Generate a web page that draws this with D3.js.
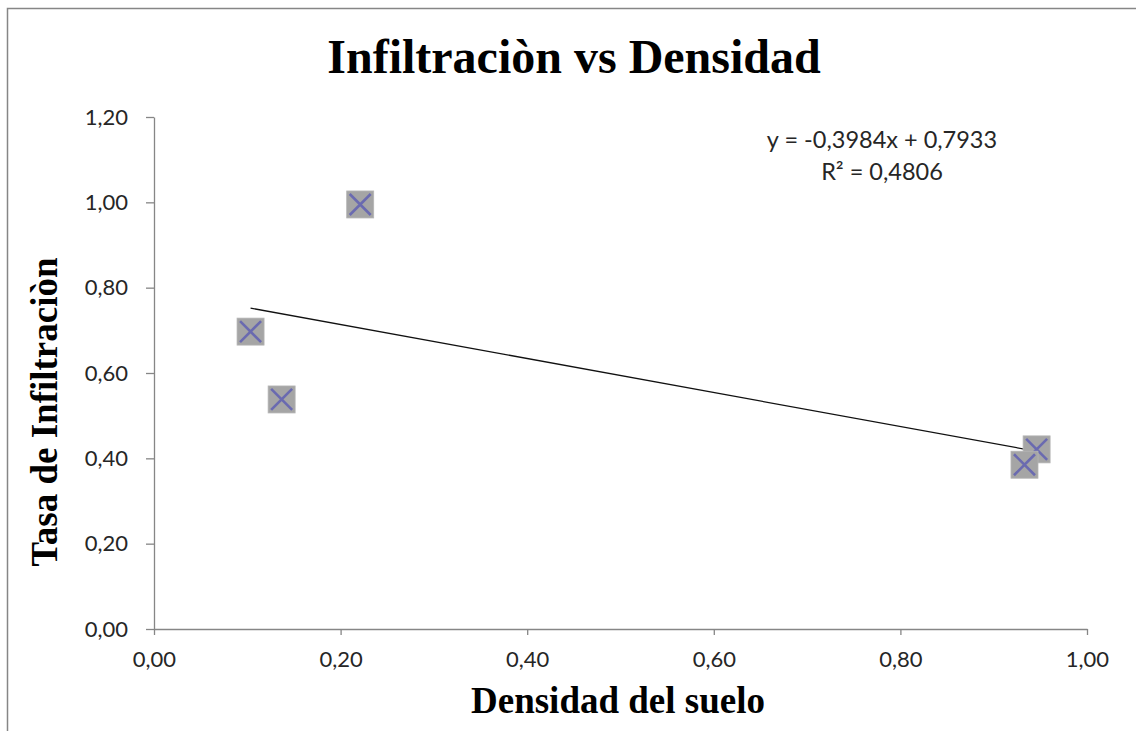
<!DOCTYPE html>
<html>
<head>
<meta charset="utf-8">
<script src="https://cdn.jsdelivr.net/npm/d3@7"></script>
<style>
  body { margin: 0; background: #fff; }
  svg { display: block; }
</style>
</head>
<body>
<div id="chart"></div>
<script>
// Data
const densidad = [0.1035, 0.1368, 0.221, 0.946, 0.933];
const infiltracion = [0.697, 0.538, 0.995, 0.421, 0.385];
const trendSlope = -0.3984;
const trendIntercept = 0.7933;
const xTicks = [0, 0.2, 0.4, 0.6, 0.8, 1.0];
const yTicks = [0, 0.2, 0.4, 0.6, 0.8, 1.0, 1.2];
const equationLines = ["y = -0,3984x + 0,7933", "R² = 0,4806"];

const width = 1136, height = 731;
const fmt = (d) => d.toFixed(2).replace(".", ",");

const svg = d3
  .select("#chart")
  .append("svg")
  .attr("width", width)
  .attr("height", height);

// Chart border (right and bottom fall outside the picture)
svg.append("rect")
  .attr("x", 7.5).attr("y", 8.5)
  .attr("width", width + 20).attr("height", height + 20)
  .attr("fill", "none")
  .attr("stroke", "#868686")
  .attr("stroke-width", 1.5);

const x = d3.scaleLinear().domain([0, 1]).range([154, 1087]);
const y = d3.scaleLinear().domain([0, 1.2]).range([629, 117]);

const tickColor = "#868686";
const labelFont = "Lato, 'Open Sans', sans-serif";

// X axis
const xAxis = svg.append("g")
  .attr("transform", `translate(0,${y(0)})`)
  .call(d3.axisBottom(x).tickValues(xTicks).tickFormat(fmt).tickSize(6).tickSizeOuter(0).tickPadding(16));
// Y axis
const yAxis = svg.append("g")
  .attr("transform", `translate(${x(0)},0)`)
  .call(d3.axisLeft(y).tickValues(yTicks).tickFormat(fmt).tickSize(8).tickSizeOuter(0).tickPadding(18));

[xAxis, yAxis].forEach((g) => {
  g.select(".domain").attr("stroke", tickColor).attr("stroke-width", 1.3);
  g.selectAll(".tick line").attr("stroke", tickColor).attr("stroke-width", 1.3);
  g.selectAll(".tick text")
    .attr("fill", "#262626")
    .style("font-family", labelFont)
    .style("font-size", "22px");
});

// Trendline across the x range of the data
const xExt = d3.extent(densidad);
svg.append("line")
  .attr("x1", x(xExt[0]))
  .attr("y1", y(trendSlope * xExt[0] + trendIntercept))
  .attr("x2", x(xExt[1]))
  .attr("y2", y(trendSlope * xExt[1] + trendIntercept))
  .attr("stroke", "#111")
  .attr("stroke-width", 1.3);

// Markers: grey square with blue cross
const pts = densidad.map((d, i) => ({ x: d, y: infiltracion[i] }));
const ms = 13.5;
const marks = svg.selectAll(".pt")
  .data(pts)
  .enter()
  .append("g")
  .attr("class", "pt")
  .attr("transform", (d) => `translate(${x(d.x)},${y(d.y)})`);

marks.append("rect")
  .attr("x", -ms).attr("y", -ms)
  .attr("width", ms * 2).attr("height", ms * 2)
  .attr("fill", "#a5a5a5")
  .attr("stroke", "#b5b5b5")
  .attr("stroke-width", 0.8);

marks.append("path")
  .attr("d", `M${-ms + 3},${-ms + 3}L${ms - 3},${ms - 3}M${ms - 3},${-ms + 3}L${-ms + 3},${ms - 3}`)
  .attr("stroke", "#6a6ab0")
  .attr("stroke-width", 2.6)
  .attr("fill", "none");

// Trendline equation
svg.append("g")
  .selectAll("text")
  .data(equationLines)
  .enter()
  .append("text")
  .attr("x", 882)
  .attr("y", (d, i) => 148 + i * 32)
  .attr("text-anchor", "middle")
  .attr("fill", "#262626")
  .style("font-family", labelFont)
  .style("font-size", "23.5px")
  .text((d) => d);

// Titles
const serif = "'Liberation Serif', 'Times New Roman', serif";
svg.append("text")
  .attr("x", 574).attr("y", 73)
  .attr("text-anchor", "middle")
  .style("font-family", serif)
  .style("font-weight", "bold")
  .style("font-size", "48px")
  .text("Infiltraciòn vs Densidad");

svg.append("text")
  .attr("x", 618).attr("y", 713)
  .attr("text-anchor", "middle")
  .style("font-family", serif)
  .style("font-weight", "bold")
  .style("font-size", "37px")
  .text("Densidad del suelo");

svg.append("text")
  .attr("transform", "translate(57,412) rotate(-90)")
  .attr("text-anchor", "middle")
  .style("font-family", serif)
  .style("font-weight", "bold")
  .style("font-size", "37px")
  .text("Tasa de Infiltraciòn");
</script>
</body>
</html>
